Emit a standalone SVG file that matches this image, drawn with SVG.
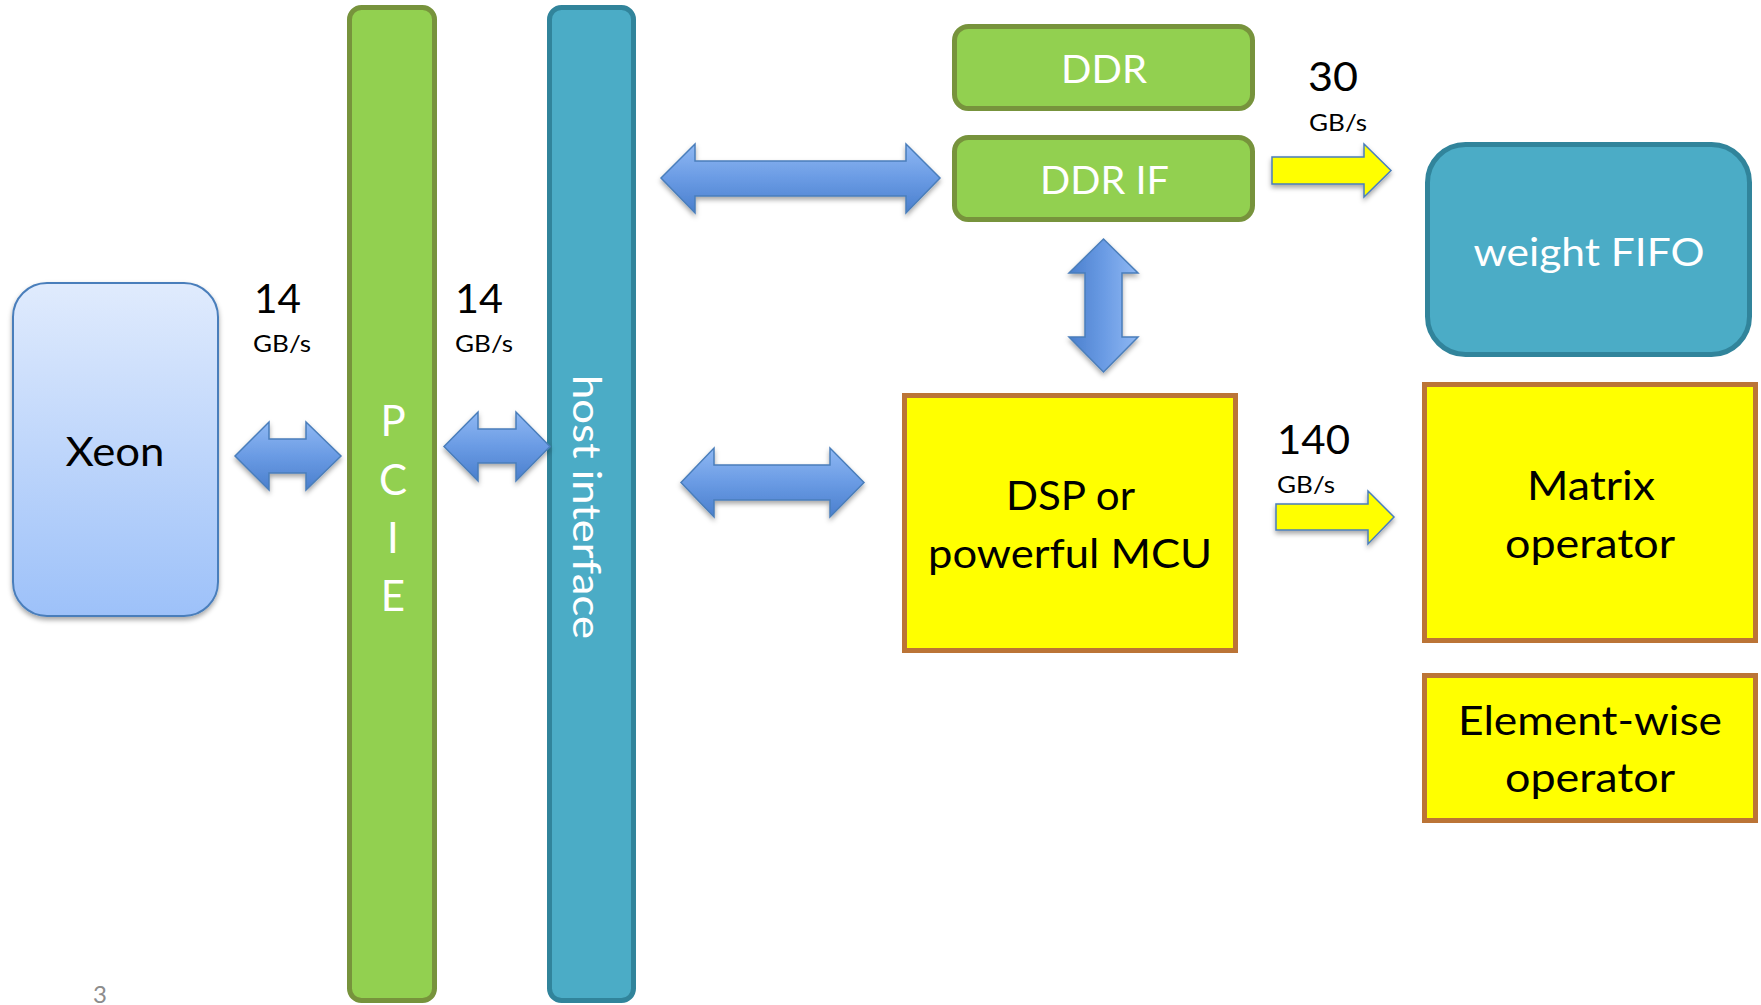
<svg xmlns="http://www.w3.org/2000/svg" width="1761" height="1005" viewBox="0 0 1761 1005">
  <style>
    text { font-family: Lato, "Open Sans", "DejaVu Sans", sans-serif; }
    .lbl { fill: #000000; font-size: 40px; }
    .wht { fill: #ffffff; font-size: 39px; }
    .num { fill: #000000; font-size: 40px; }
    .unit { fill: #000000; font-size: 24px; }
    .green { fill: #92d050; stroke: #77933c; stroke-width: 5; }
    .teal { fill: #4bacc6; stroke: #31849b; stroke-width: 5; }
    .yel { fill: #ffff00; stroke: #bb7436; stroke-width: 5; }
    .barrow { fill: url(#blueH); stroke: #4a7ebb; stroke-width: 1.5; filter: url(#shadow); }
    .yarrow { fill: #ffff00; stroke: #4a7ebb; stroke-width: 1.5; filter: url(#shadow); }
  </style>
  <defs>
    <linearGradient id="xeonFill" x1="0" y1="0" x2="0" y2="1">
      <stop offset="0" stop-color="#e0ebfd"/>
      <stop offset="1" stop-color="#9dc1f9"/>
    </linearGradient>
    <linearGradient id="blueH" x1="0" y1="0" x2="0" y2="1">
      <stop offset="0" stop-color="#8fb8f3"/>
      <stop offset="0.5" stop-color="#6a9be4"/>
      <stop offset="1" stop-color="#4a7fcd"/>
    </linearGradient>
    <linearGradient id="blueV" x1="1" y1="0" x2="0" y2="0">
      <stop offset="0" stop-color="#8fb8f3"/>
      <stop offset="0.5" stop-color="#6a9be4"/>
      <stop offset="1" stop-color="#4a7fcd"/>
    </linearGradient>
    <filter id="shadow" x="-20%" y="-20%" width="140%" height="150%">
      <feDropShadow dx="0" dy="3" stdDeviation="2.5" flood-color="#000000" flood-opacity="0.35"/>
    </filter>
  </defs>

  <rect width="1761" height="1005" fill="#ffffff"/>

  <!-- host CPU -->
  <g id="xeon">
    <rect x="13" y="283" width="205" height="333" rx="34" fill="url(#xeonFill)" stroke="#4a7ebb" stroke-width="2" filter="url(#shadow)"/>
    <text class="lbl" x="115" y="466" text-anchor="middle" font-size="36" textLength="99" lengthAdjust="spacingAndGlyphs">Xeon</text>
  </g>

  <!-- PCIe bus bar -->
  <g id="pcie">
    <rect class="green" x="349.5" y="7.5" width="85" height="993" rx="12"/>
    <g class="wht" font-size="42" text-anchor="middle">
      <text x="393" y="436" font-size="42">P</text>
      <text x="393" y="495" font-size="42">C</text>
      <text x="393" y="553" font-size="42">I</text>
      <text x="393" y="611" font-size="42">E</text>
    </g>
  </g>

  <!-- host interface bar -->
  <g id="host-interface">
    <rect class="teal" x="549.5" y="7.5" width="84" height="993" rx="12"/>
    <text class="wht" transform="translate(573,507) rotate(90)" x="0" y="0" text-anchor="middle" font-size="45" textLength="264" lengthAdjust="spacingAndGlyphs">host interface</text>
  </g>

  <!-- memory -->
  <g id="ddr">
    <rect class="green" x="954.5" y="26.5" width="298" height="82" rx="14"/>
    <text class="wht" x="1104" y="83" text-anchor="middle" textLength="86" lengthAdjust="spacingAndGlyphs">DDR</text>
  </g>
  <g id="ddr-if">
    <rect class="green" x="954.5" y="137.5" width="298" height="82" rx="14"/>
    <text class="wht" x="1104.5" y="194" text-anchor="middle" textLength="129" lengthAdjust="spacingAndGlyphs">DDR IF</text>
  </g>

  <g id="weight-fifo">
    <rect class="teal" x="1427.5" y="144.5" width="322" height="210" rx="38"/>
    <text class="wht" x="1589" y="266" text-anchor="middle" font-size="35" textLength="231" lengthAdjust="spacingAndGlyphs">weight FIFO</text>
  </g>

  <g id="dsp">
    <rect class="yel" x="904.5" y="395.5" width="331" height="255"/>
    <text class="lbl" x="1070.5" y="510" text-anchor="middle" textLength="129" lengthAdjust="spacingAndGlyphs">DSP or</text>
    <text class="lbl" x="1070" y="568" text-anchor="middle" textLength="284" lengthAdjust="spacingAndGlyphs">powerful MCU</text>
  </g>

  <g id="matrix-operator">
    <rect class="yel" x="1424.5" y="384.5" width="331" height="256"/>
    <text class="lbl" x="1591" y="500" text-anchor="middle" textLength="128" lengthAdjust="spacingAndGlyphs">Matrix</text>
    <text class="lbl" x="1590" y="558" text-anchor="middle" textLength="170" lengthAdjust="spacingAndGlyphs">operator</text>
  </g>

  <g id="element-wise-operator">
    <rect class="yel" x="1424.5" y="675.5" width="331" height="145"/>
    <text class="lbl" x="1590" y="735" text-anchor="middle" textLength="264" lengthAdjust="spacingAndGlyphs">Element-wise</text>
    <text class="lbl" x="1590" y="792" text-anchor="middle" textLength="170" lengthAdjust="spacingAndGlyphs">operator</text>
  </g>

  <!-- connectors -->
  <g id="connectors">
    <path class="barrow" d="M235,456 L269,422 L269,439 L306,439 L306,422 L341,456 L306,490 L306,473 L269,473 L269,490 Z"/>
    <path class="barrow" d="M444,446.5 L478,412 L478,429 L516,429 L516,412 L550,446.5 L516,481 L516,463 L478,463 L478,481 Z"/>
    <path class="barrow" d="M661,178 L695,144 L695,161 L906,161 L906,144 L940,178 L906,213 L906,196 L695,196 L695,213 Z"/>
    <path class="barrow" d="M681,482.5 L714,448 L714,465 L830,465 L830,448 L864,482.5 L830,517 L830,500 L714,500 L714,517 Z"/>
    <path class="barrow" style="fill:url(#blueV)" d="M1103.5,239 L1138,273 L1122,273 L1122,337 L1138,337 L1103.5,372 L1069,337 L1085,337 L1085,273 L1069,273 Z"/>
    <path class="yarrow" d="M1272,157 L1364,157 L1364,144 L1391,170.5 L1364,197 L1364,184 L1272,184 Z"/>
    <path class="yarrow" d="M1276,504 L1368,504 L1368,491 L1394,517 L1368,544 L1368,530 L1276,530 Z"/>
  </g>

  <!-- bandwidth labels -->
  <g id="bandwidth-labels">
    <text class="num" x="254" y="313" textLength="47" lengthAdjust="spacingAndGlyphs">14</text>
    <text class="unit" x="253" y="352" textLength="58" lengthAdjust="spacingAndGlyphs">GB/s</text>
    <text class="num" x="455" y="313" textLength="48" lengthAdjust="spacingAndGlyphs">14</text>
    <text class="unit" x="455" y="352" textLength="58" lengthAdjust="spacingAndGlyphs">GB/s</text>
    <text class="num" x="1308" y="91" textLength="50" lengthAdjust="spacingAndGlyphs">30</text>
    <text class="unit" x="1309" y="131" textLength="58" lengthAdjust="spacingAndGlyphs">GB/s</text>
    <text class="num" x="1277" y="454" textLength="73" lengthAdjust="spacingAndGlyphs">140</text>
    <text class="unit" x="1277" y="493" textLength="58" lengthAdjust="spacingAndGlyphs">GB/s</text>
  </g>

  <!-- slide number -->
  <text x="93" y="1003" font-size="24" fill="#8c8c8c">3</text>
</svg>
